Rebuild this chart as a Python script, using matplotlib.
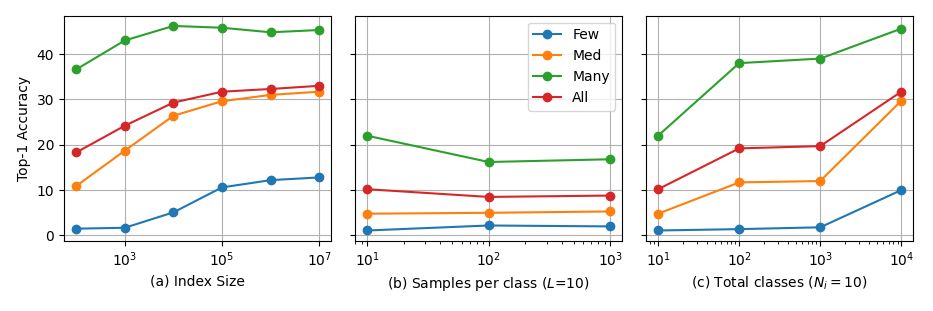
import matplotlib
matplotlib.use("Agg")
import matplotlib.pyplot as plt
from matplotlib.ticker import NullLocator, FixedLocator

series_names = ["Few", "Med", "Many", "All"]

# (a) Index size
index_size = [1e2, 1e3, 1e4, 1e5, 1e6, 1e7]
a_few = [1.5, 1.7, 5.1, 10.6, 12.2, 12.8]
a_med = [10.9, 18.7, 26.4, 29.6, 31.0, 31.7]
a_many = [36.6, 43.0, 46.2, 45.8, 44.8, 45.3]
a_all = [18.3, 24.2, 29.3, 31.7, 32.3, 33.0]

# (b) Samples per class
samples = [1e1, 1e2, 1e3]
b_few = [1.1, 2.2, 2.0]
b_med = [4.8, 5.0, 5.3]
b_many = [22.0, 16.2, 16.8]
b_all = [10.2, 8.5, 8.8]

# (c) Total classes
classes = [1e1, 1e2, 1e3, 1e4]
c_few = [1.1, 1.4, 1.8, 10.0]
c_med = [4.8, 11.7, 12.0, 29.7]
c_many = [22.0, 38.0, 39.0, 45.6]
c_all = [10.2, 19.2, 19.7, 31.7]

xlabels = ["(a) Index Size", "(b) Samples per class ($L$=10)",
           "(c) Total classes ($N_i = 10$)"]
yticks = [0, 10, 20, 30, 40]

panels = [
    (index_size, [a_few, a_med, a_many, a_all]),
    (samples, [b_few, b_med, b_many, b_all]),
    (classes, [c_few, c_med, c_many, c_all]),
]
colors = ["#1f77b4", "#ff7f0e", "#2ca02c", "#d62728"]

fig, axes = plt.subplots(1, 3, figsize=(9.33, 3.11), dpi=100, sharey=True)
fig.subplots_adjust(left=0.0686, right=0.979, top=0.9495, bottom=0.226, wspace=0.088)

for i, (ax, (xs, ys_list)) in enumerate(zip(axes, panels)):
    for name, ys, col in zip(series_names, ys_list, colors):
        ax.plot(xs, ys, marker="o", color=col, label=name, markersize=6, linewidth=1.5)
    ax.set_xscale("log")
    ax.grid(True, which="major", color="#b0b0b0", linewidth=0.8)
    ax.set_xlabel(xlabels[i], fontsize=10)
    ax.tick_params(labelsize=10)

axes[0].xaxis.set_major_locator(FixedLocator([1e3, 1e5, 1e7]))
axes[0].xaxis.set_minor_locator(NullLocator())
axes[0].set_yticks(yticks)
axes[0].set_ylabel("Top-1 Accuracy", fontsize=10)
axes[1].legend(loc="upper right", fontsize=10)

fig.savefig("out.png", dpi=100)
